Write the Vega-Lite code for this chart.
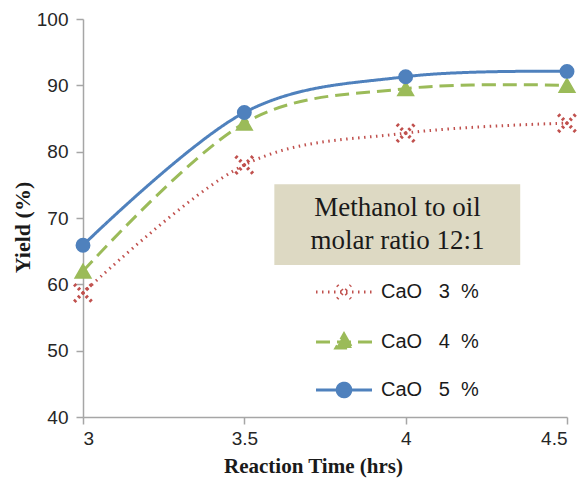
{
  "$schema": "https://vega.github.io/schema/vega-lite/v6.json",
  "width": 484,
  "height": 398,
  "autosize": "none",
  "padding": {"left": 83, "top": 19, "right": 12, "bottom": 63},
  "background": "white",
  "config": {
    "view": {"stroke": null},
    "font": "Liberation Sans",
    "legend": {"symbolOpacity": 1},
    "axis": {
      "gridColor": "#c0c0c0",
      "gridWidth": 1.5,
      "domainColor": "#a6a6a6",
      "domainWidth": 1.5,
      "tickColor": "#a6a6a6",
      "tickWidth": 1.5,
      "tickSize": 7,
      "labelFont": "Liberation Sans",
      "labelFontSize": 19,
      "labelColor": "#262626",
      "titleFont": "Liberation Serif",
      "titleFontWeight": "bold",
      "titleColor": "#1a1a1a"
    }
  },
  "data": {
    "values": [
      {"time": 3, "yield": 58.7, "series": "CaO\u00a0\u00a0\u00a03\u00a0\u00a0%"},
      {"time": 3.5, "yield": 78.0, "series": "CaO\u00a0\u00a0\u00a03\u00a0\u00a0%"},
      {"time": 4, "yield": 82.8, "series": "CaO\u00a0\u00a0\u00a03\u00a0\u00a0%"},
      {"time": 4.5, "yield": 84.3, "series": "CaO\u00a0\u00a0\u00a03\u00a0\u00a0%"},
      {"time": 3, "yield": 62.0, "series": "CaO\u00a0\u00a0\u00a04\u00a0\u00a0%"},
      {"time": 3.5, "yield": 84.3, "series": "CaO\u00a0\u00a0\u00a04\u00a0\u00a0%"},
      {"time": 4, "yield": 89.5, "series": "CaO\u00a0\u00a0\u00a04\u00a0\u00a0%"},
      {"time": 4.5, "yield": 90.0, "series": "CaO\u00a0\u00a0\u00a04\u00a0\u00a0%"},
      {"time": 3, "yield": 65.9, "series": "CaO\u00a0\u00a0\u00a05\u00a0\u00a0%"},
      {"time": 3.5, "yield": 85.9, "series": "CaO\u00a0\u00a0\u00a05\u00a0\u00a0%"},
      {"time": 4, "yield": 91.3, "series": "CaO\u00a0\u00a0\u00a05\u00a0\u00a0%"},
      {"time": 4.5, "yield": 92.1, "series": "CaO\u00a0\u00a0\u00a05\u00a0\u00a0%"}
    ]
  },
  "layer": [
    {
      "data": {"values": [{}]},
      "mark": {"type": "rect", "fill": "white"},
      "encoding": {
        "x": {"datum": 3.43, "type": "quantitative", "scale": {"domain": [3, 4.5], "nice": false, "zero": false}},
        "x2": {"datum": 4.479},
        "y": {"datum": 62.6, "type": "quantitative", "scale": {"domain": [40, 100], "nice": false, "zero": false}},
        "y2": {"datum": 40.7}
      }
    },
    {
      "data": {"values": [{}]},
      "mark": {"type": "rect", "fill": "#ddd9c3"},
      "encoding": {
        "x": {"datum": 3.593, "type": "quantitative"},
        "x2": {"datum": 4.355},
        "y": {"datum": 75.1, "type": "quantitative"},
        "y2": {"datum": 62.9}
      }
    },
    {
      "data": {"values": [{}]},
      "mark": {
        "type": "text",
        "text": ["Methanol to oil", "molar ratio 12:1"],
        "font": "Liberation Serif",
        "fontSize": 27,
        "lineHeight": 33,
        "color": "#1a1a1a",
        "align": "center",
        "baseline": "middle"
      },
      "encoding": {
        "x": {"datum": 3.975, "type": "quantitative"},
        "y": {"datum": 71.5, "type": "quantitative"}
      }
    },
    {
      "mark": {"type": "line", "interpolate": "cardinal", "strokeWidth": 3},
      "encoding": {
        "x": {
          "field": "time",
          "type": "quantitative",
          "scale": {"domain": [3, 4.5], "nice": false, "zero": false},
          "axis": {
            "values": [3, 3.5, 4, 4.5],
            "format": "~g",
            "title": "Reaction Time (hrs)",
            "titleFontSize": 21,
            "labelPadding": 5,
            "titleX": 230,
            "titleY": 49,
            "titleBaseline": "middle"
          }
        },
        "y": {
          "field": "yield",
          "type": "quantitative",
          "scale": {"domain": [40, 100], "nice": false, "zero": false},
          "axis": {
            "values": [40, 50, 60, 70, 80, 90, 100],
            "title": "Yield (%)",
            "titleFontSize": 22,
            "labelPadding": 8,
            "titleX": -61,
            "titleY": 208,
            "titleBaseline": "middle"
          }
        },
        "color": {
          "field": "series",
          "type": "nominal",
          "scale": {"domain": ["CaO\u00a0\u00a0\u00a03\u00a0\u00a0%", "CaO\u00a0\u00a0\u00a04\u00a0\u00a0%", "CaO\u00a0\u00a0\u00a05\u00a0\u00a0%"], "range": ["#c0504d", "#9bbb59", "#4f81bd"]},
          "legend": {
            "orient": "none",
            "legendX": 251,
            "legendY": 263,
            "title": null,
            "padding": 0,
            "symbolSize": 256,
            "symbolStrokeWidth": 3,
            "symbolOpacity": 1,
            "labelOffset": 27,
            "rowPadding": 23,
            "labelFont": "Liberation Sans",
            "labelFontSize": 20,
            "labelColor": "#1a1a1a"
          }
        },
        "strokeDash": {
          "field": "series",
          "type": "nominal",
          "scale": {"domain": ["CaO\u00a0\u00a0\u00a03\u00a0\u00a0%", "CaO\u00a0\u00a0\u00a04\u00a0\u00a0%", "CaO\u00a0\u00a0\u00a05\u00a0\u00a0%"], "range": [[1.5, 4.5], [14, 7], [1, 0]]},
          "legend": null
        }
      }
    },
    {
      "transform": [{"filter": {"field": "series", "equal": "CaO\u00a0\u00a0\u00a03\u00a0\u00a0%"}}],
      "mark": {"type": "point", "shape": "M-1.25,-1.25L1.25,1.25M-1.25,1.25L1.25,-1.25", "filled": false, "stroke": "#c0504d", "strokeWidth": 3.5, "strokeDash": [2.5, 3], "size": 196, "opacity": 1},
      "encoding": {
        "x": {"field": "time", "type": "quantitative"},
        "y": {"field": "yield", "type": "quantitative"}
      }
    },
    {
      "transform": [{"filter": {"field": "series", "equal": "CaO\u00a0\u00a0\u00a04\u00a0\u00a0%"}}],
      "mark": {"type": "point", "shape": "triangle-up", "filled": true, "fill": "#9bbb59", "stroke": "#9bbb59", "strokeWidth": 1.5, "size": 250, "opacity": 1},
      "encoding": {
        "x": {"field": "time", "type": "quantitative"},
        "y": {"field": "yield", "type": "quantitative"}
      }
    },
    {
      "transform": [{"filter": {"field": "series", "equal": "CaO\u00a0\u00a0\u00a05\u00a0\u00a0%"}}],
      "mark": {"type": "point", "shape": "circle", "filled": true, "fill": "#4f81bd", "stroke": "#4f81bd", "strokeWidth": 1.5, "size": 180, "opacity": 1},
      "encoding": {
        "x": {"field": "time", "type": "quantitative"},
        "y": {"field": "yield", "type": "quantitative"}
      }
    },
    {
      "mark": {"type": "point", "filled": true, "opacity": 0},
      "encoding": {
        "x": {"field": "time", "type": "quantitative"},
        "y": {"field": "yield", "type": "quantitative"},
        "color": {"field": "series", "type": "nominal"},
        "shape": {
          "field": "series",
          "type": "nominal",
          "scale": {
            "domain": ["CaO\u00a0\u00a0\u00a03\u00a0\u00a0%", "CaO\u00a0\u00a0\u00a04\u00a0\u00a0%", "CaO\u00a0\u00a0\u00a05\u00a0\u00a0%"],
            "range": [
              "M-3.5,0L3.5,0M-0.85,-0.85L0.85,0.85M-0.85,0.85L0.85,-0.85",
              "M-3.5,0L3.5,0M0,-1L1,0.75L-1,0.75Z",
              "M-3.5,0L3.5,0M0.85,0A0.85,0.85,0,1,1,-0.85,0A0.85,0.85,0,1,1,0.85,0Z"
            ]
          },
          "legend": null
        }
      }
    }
  ]
}
